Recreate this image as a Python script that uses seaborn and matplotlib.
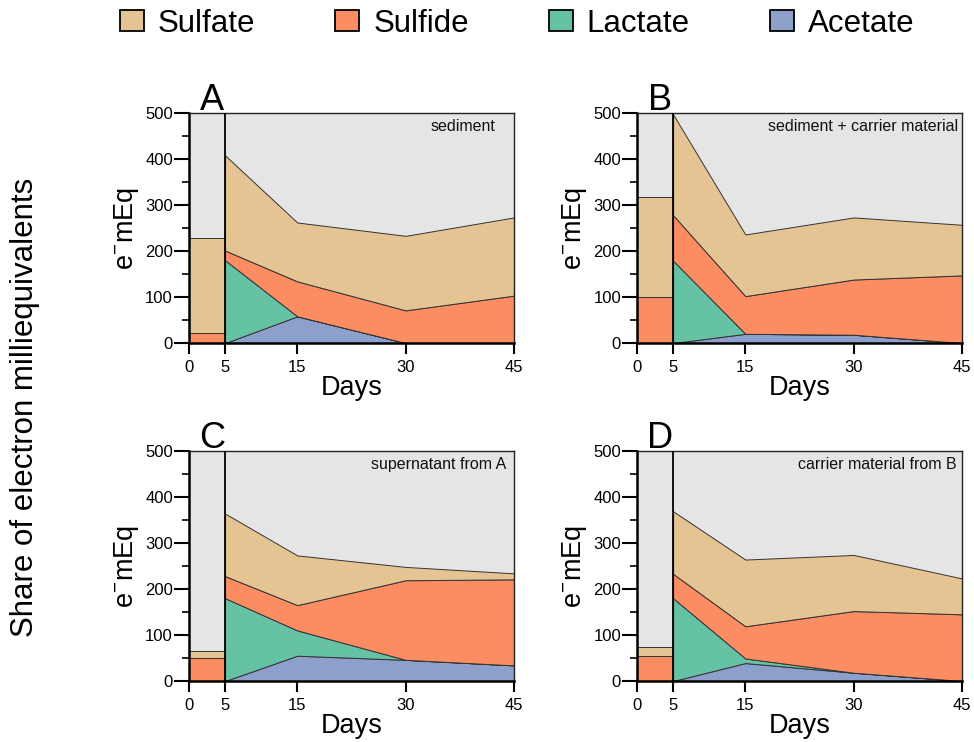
import matplotlib
matplotlib.use("Agg")
import matplotlib.pyplot as plt
import seaborn as sns
import numpy as np
from matplotlib.patches import Patch
from matplotlib.ticker import MultipleLocator

sns.set_theme(style="ticks")
plt.rcParams['font.family'] = ['Liberation Sans', 'DejaVu Sans']
plt.rcParams['mathtext.fontset'] = 'custom'
plt.rcParams['mathtext.rm'] = 'Liberation Sans'
plt.rcParams['mathtext.it'] = 'Liberation Sans'
plt.rcParams['text.color'] = 'black'
plt.rcParams['axes.labelcolor'] = 'black'

# ---------------- data ----------------
species = ["Sulfate", "Sulfide", "Lactate", "Acetate"]
days = [5, 15, 30, 45]
block_days = [0, 5]
panels = ["A", "B", "C", "D"]
labels = ["sediment", "sediment + carrier material",
          "supernatant from A", "carrier material from B"]

# initial block (day 0-5): sulfide, sulfate amounts
block_sulfide = [21, 100, 49, 54]
block_sulfate = [208, 217, 16, 20]

# amounts (layer thickness) at days 5, 15, 30, 45
acetate = [[0, 58, 0, 0], [0, 20, 18, 0], [0, 55, 46, 34], [0, 39, 18, 0]]
lactate = [[180, 0, 0, 0], [179, 0, 0, 0], [180, 55, 0, 0], [180, 10, 0, 0]]
sulfide = [[21, 76, 71, 103], [99, 82, 120, 147], [48, 55, 173, 187], [53, 70, 134, 145]]
sulfate = [[207, 128, 162, 170], [219, 134, 135, 110], [136, 108, 29, 13], [136, 145, 122, 78]]

pal = sns.color_palette("Set2")
col = {"Sulfate": pal[6], "Sulfide": pal[1], "Lactate": pal[0], "Acetate": pal[2]}
edge = "#333333"
bg = "#e5e5e5"

fig = plt.figure(figsize=(9.74, 7.42), dpi=100)
W = 0.3337
H = 0.31
positions = [(0.194, 0.5377), (0.654, 0.5377), (0.194, 0.0822), (0.654, 0.0822)]
text_x = [0.942, 0.988, 0.975, 0.982]

for i in range(4):
    ax = fig.add_axes([positions[i][0], positions[i][1], W, H])
    ax.set_facecolor(bg)
    # block
    bs = [block_sulfide[i]] * 2
    bsu = [block_sulfate[i]] * 2
    ax.stackplot(block_days, bs, bsu,
                 colors=[col["Sulfide"], col["Sulfate"]],
                 edgecolor=edge, linewidth=0.7)
    ax.stackplot(days, acetate[i], lactate[i], sulfide[i], sulfate[i],
                 colors=[col["Acetate"], col["Lactate"], col["Sulfide"], col["Sulfate"]],
                 edgecolor=edge, linewidth=0.7)
    ax.axvline(5, color="black", lw=1.3, zorder=5)
    ax.set_xlim(0, 45)
    ax.set_ylim(0, 500)
    ax.set_xticks([0, 5, 15, 30, 45])
    ax.set_yticks([0, 100, 200, 300, 400, 500])
    ax.yaxis.set_minor_locator(MultipleLocator(50))
    ax.tick_params(axis='x', which='major', direction='out', length=8, width=1.5,
                   labelsize=12, color='black', pad=4.5, labelcolor='black')
    ax.tick_params(axis='y', which='major', direction='out', length=11, width=1.5,
                   labelsize=12, color='black', pad=0.5, labelcolor='black')
    ax.tick_params(axis='y', which='minor', direction='out', length=5, width=1.2, color='black')
    for s in ["left", "bottom"]:
        ax.spines[s].set_linewidth(1.8)
        ax.spines[s].set_color("black")
    for s in ["top", "right"]:
        ax.spines[s].set_linewidth(1.0)
        ax.spines[s].set_color("#222222")
        ax.spines[s].set_visible(True)
    ax.set_xlabel("Days", fontsize=19.5, labelpad=0, color='black')
    ax.set_ylabel(r"e$^{-}$mEq", fontsize=19.5, labelpad=3, color='black')
    ax.text(0.072, 1.012, panels[i], transform=ax.transAxes, fontsize=26,
            ha='center', va='baseline', color='black')
    ax.text(text_x[i], 0.94, labels[i], transform=ax.transAxes, fontsize=11.5,
            ha='right', va='center', color='#111111')

fig.text(0.026, 0.451, "Share of electron milliequivalents", rotation=90,
         fontsize=22.5, ha='center', va='center', color='black')

handles = [Patch(facecolor=col[s], edgecolor='black', linewidth=1.3, label=s) for s in species]
fig.legend(handles=handles, loc='center', bbox_to_anchor=(0.531, 0.968), ncol=4,
           frameon=False, fontsize=22.5, handlelength=0.77, handleheight=0.65,
           handletextpad=0.45, columnspacing=2.55, borderaxespad=0)

fig.savefig("out.png", dpi=100)
